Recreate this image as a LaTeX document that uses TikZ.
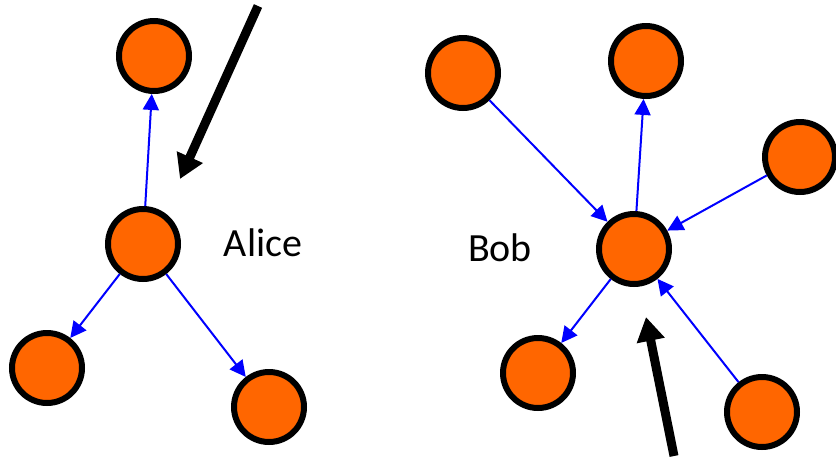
\documentclass[tikz,border=0pt]{standalone}
\usepackage{fontspec}
\setmainfont{Carlito}
\usetikzlibrary{arrows.meta}
\definecolor{nodeorange}{HTML}{FF6600}
\tikzset{
  vertex/.style={circle, draw=black, line width=6pt, fill=nodeorange,
                 minimum size=70pt, inner sep=0pt},
  link/.style={draw=blue, line width=2pt, -{Triangle[length=16pt,width=16pt]}},
  pointer/.style={draw=black, line width=9pt, -{Triangle[length=24pt,width=27pt]}},
  namelabel/.style={font=\fontsize{40}{42}\selectfont, inner sep=0pt}
}
\begin{document}
\begin{tikzpicture}[x=1pt, y=-1pt]
  \useasboundingbox (0,0) rectangle (836,456);

  % left graph: Alice and her neighbours
  \node[vertex] (alice) at (143,244) {};
  \node[vertex] (aTop) at (154,56) {};
  \node[vertex] (aLeft) at (47,368) {};
  \node[vertex] (aRight) at (269,407) {};
  \node[namelabel] (aliceName) at (263,243) {Alice};

  \draw[link] (alice) -- (aTop);
  \draw[link] (alice) -- (aLeft);
  \draw[link] (alice) -- (aRight);

  \coordinate (aStart) at (258,6);
  \coordinate (aEnd) at (180,179);
  \draw[pointer] (aStart) -- (aEnd);

  % right graph: Bob and his neighbours
  \node[vertex] (bob) at (634,249) {};
  \node[vertex] (bTopLeft) at (463,73) {};
  \node[vertex] (bTop) at (646,61) {};
  \node[vertex] (bRight) at (800,157) {};
  \node[vertex] (bLeft) at (538,373) {};
  \node[vertex] (bBottom) at (762,412) {};
  \node[namelabel] (bobName) at (500,248) {Bob};

  \draw[link] (bTopLeft) -- (bob);
  \draw[link] (bob) -- (bTop);
  \draw[link] (bRight) -- (bob);
  \draw[link] (bob) -- (bLeft);
  \draw[link] (bBottom) -- (bob);

  \coordinate (bStart) at (674,456);
  \coordinate (bEnd) at (646,317);
  \draw[pointer] (bStart) -- (bEnd);
\end{tikzpicture}
\end{document}
